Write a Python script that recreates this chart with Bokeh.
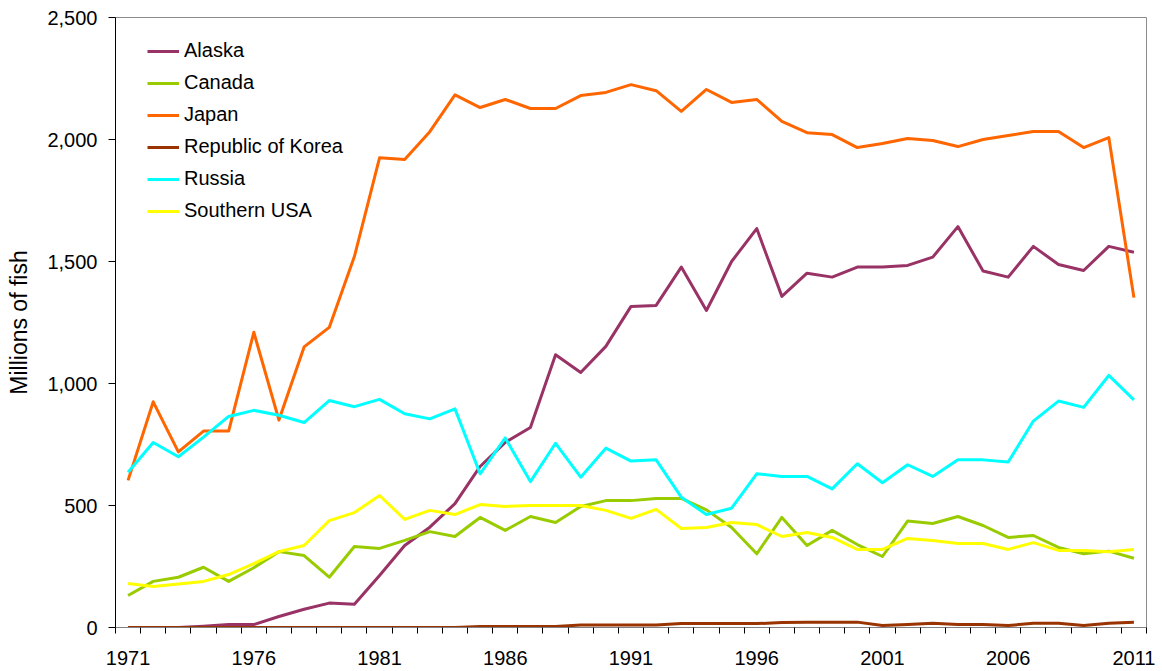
from bokeh.plotting import figure
from bokeh.models import Range1d, FixedTicker, NumeralTickFormatter, Legend, LegendItem
from bokeh.embed import file_html
from bokeh.resources import INLINE

years = list(range(1971, 2012))

alaska = [0, 0, 0, 5, 12, 12, 45, 75, 100, 95, 213, 336, 411, 508, 660, 759, 820,
          1118, 1045, 1152, 1316, 1320, 1477, 1299, 1500, 1635, 1357, 1452, 1436, 1477,
          1477, 1484, 1518, 1643, 1461, 1436, 1562, 1488, 1463, 1562, 1538]
canada = [131, 189, 206, 247, 189, 245, 311, 295, 206, 332, 324, 357, 393, 373, 451,
          398, 455, 430, 496, 520, 520, 529, 529, 482, 410, 302, 451, 336, 398, 340,
          291, 436, 426, 455, 418, 369, 377, 328, 302, 313, 284]
japan = [603, 925, 720, 805, 805, 1210, 850, 1150, 1230, 1520, 1925, 1918, 2032, 2183,
         2131, 2164, 2127, 2127, 2180, 2193, 2225, 2200, 2115, 2205, 2152, 2164, 2074,
         2028, 2020, 1967, 1984, 2004, 1996, 1971, 2000, 2016, 2033, 2033, 1967, 2008, 1352]
korea = [0, 0, 0, 0, 0, 0, 0, 0, 0, 0, 0, 0, 0, 0, 4, 4, 4, 4, 10, 10, 10, 10, 16,
         16, 16, 16, 20, 22, 22, 22, 8, 12, 17, 12, 12, 8, 17, 17, 8, 17, 22]
russia = [636, 758, 700, 780, 865, 890, 870, 840, 930, 905, 935, 876, 855, 896, 630,
          777, 598, 755, 616, 735, 682, 687, 534, 463, 489, 630, 619, 619, 568, 671,
          593, 667, 619, 687, 687, 678, 846, 928, 902, 1033, 933]
southern_usa = [180, 168, 178, 189, 217, 262, 311, 336, 438, 471, 541, 443, 480, 463,
                504, 496, 500, 500, 500, 480, 447, 484, 406, 410, 430, 422, 373, 389,
                369, 320, 320, 365, 357, 344, 344, 320, 348, 316, 316, 310, 320]

series_names = ["Alaska", "Canada", "Japan", "Republic of Korea", "Russia", "Southern USA"]
series_values = [alaska, canada, japan, korea, russia, southern_usa]
series_colors = ["#993366", "#99CC00", "#FF6600", "#993300", "#00FFFF", "#FFFF00"]

x_tick_years = [1971, 1976, 1981, 1986, 1991, 1996, 2001, 2006, 2011]
y_ticks = [0, 500, 1000, 1500, 2000, 2500]

FONT = "Liberation Sans"

p = figure(width=1162, height=671, output_backend="svg", toolbar_location=None,
           x_range=Range1d(1970.5, 2011.5), y_range=Range1d(0, 2500),
           min_border_left=115, min_border_right=16, min_border_top=17, min_border_bottom=44)
p.background_fill_color = "white"
p.border_fill_color = "white"
p.outline_line_color = "#8c8c8c"
p.outline_line_width = 1
p.xgrid.visible = False
p.ygrid.visible = False

items = []
for name, vals, col in zip(series_names, series_values, series_colors):
    r = p.line(years, vals, line_color=col, line_width=3, line_join="round")
    items.append(LegendItem(label=name, renderers=[r]))

# x axis
xa = p.xaxis[0]
xa.ticker = FixedTicker(ticks=x_tick_years, minor_ticks=[y - 0.5 for y in years] + [2011.5])
xa.major_tick_line_color = None
xa.major_tick_out = 0
xa.major_tick_in = 0
xa.minor_tick_line_color = "black"
xa.minor_tick_out = 6
xa.minor_tick_in = 0
xa.axis_line_color = "#808080"
xa.major_label_text_font = FONT
xa.major_label_text_font_size = "20px"
xa.major_label_text_color = "black"
xa.major_label_standoff = 17

# y axis
ya = p.yaxis[0]
ya.ticker = FixedTicker(ticks=y_ticks)
ya.formatter = NumeralTickFormatter(format="0,0")
ya.minor_tick_line_color = None
ya.major_tick_out = 7
ya.major_tick_in = 0
ya.major_tick_line_color = "black"
ya.axis_line_color = "black"
ya.major_label_text_font = FONT
ya.major_label_text_font_size = "20px"
ya.major_label_text_color = "black"
ya.major_label_standoff = 11
ya.axis_label = "Millions of fish"
ya.axis_label_text_font = FONT
ya.axis_label_text_font_size = "23px"
ya.axis_label_text_font_style = "normal"
ya.axis_label_text_color = "black"
ya.axis_label_standoff = 12

legend = Legend(items=items, location=(32, 405))
legend.background_fill_alpha = 0
legend.border_line_color = None
legend.padding = 0
legend.margin = 0
legend.glyph_width = 32
legend.glyph_height = 20
legend.label_height = 20
legend.spacing = 9
legend.label_standoff = 5
legend.label_text_font = FONT
legend.label_text_font_size = "20px"
legend.label_text_color = "black"
p.add_layout(legend, "center")

open("out.html", "w").write(file_html(p, INLINE))
